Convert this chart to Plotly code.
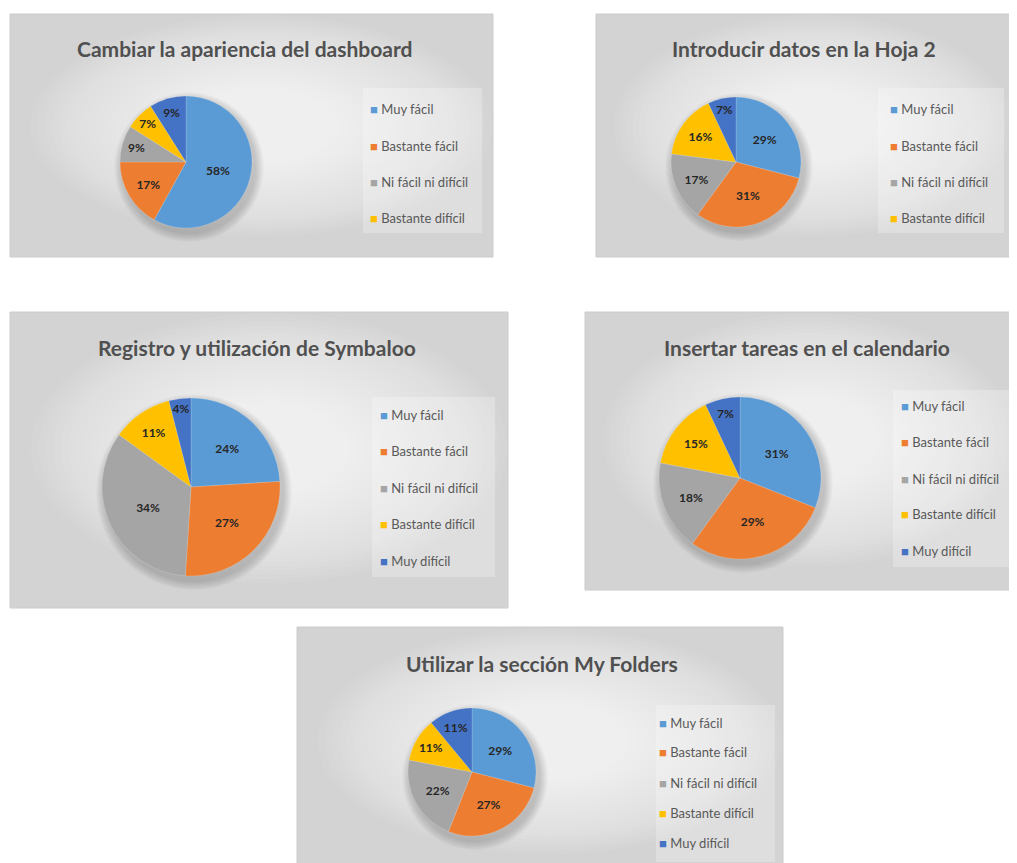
import plotly.graph_objects as go

# the page body has an 8px margin, so the figure is drawn 8px lower/right
OFF = 8
W, H = 1017 - OFF, 863 - OFF

# ---------------- data ----------------
categories = ["Muy fácil", "Bastante fácil", "Ni fácil ni difícil", "Bastante difícil", "Muy difícil"]
colors = ["#5B9BD5", "#ED7D31", "#A5A5A5", "#FFC000", "#4472C4"]

titles = [
    "Cambiar la apariencia del dashboard",
    "Introducir datos en la Hoja 2",
    "Registro y utilización de Symbaloo",
    "Insertar tareas en el calendario",
    "Utilizar la sección My Folders",
]
vals_dashboard = [58, 17, 9, 7, 9]
vals_hoja2 = [29, 31, 17, 16, 7]
vals_symbaloo = [24, 27, 34, 11, 4]
vals_calendario = [31, 29, 18, 15, 7]
vals_folders = [29, 27, 22, 11, 11]
legend_counts = [4, 4, 5, 5, 5]

series = [vals_dashboard, vals_hoja2, vals_symbaloo, vals_calendario, vals_folders]

# ---------------- layout (reference pixels) ----------------
panels = [(10, 14, 493, 257), (596, 14, 1013, 257), (10, 312, 508, 608),
          (585, 312, 1016, 590), (297, 627, 783, 875)]
pie_geo = [(186, 162, 132), (736, 162, 130), (191, 487, 178), (740, 478, 162), (472, 772, 128)]
title_pos = [(244, 48), (804, 48), (257, 347), (807, 347), (542, 663)]
legend_x = [373, 893, 383, 904, 662]
legend_rows = [[109, 146, 182, 218], [109, 146, 182, 218],
               [415, 451, 488, 524, 561], [406, 442, 479, 514, 551],
               [723, 752, 783, 813, 843]]
legend_box = [(363, 88, 482, 233), (878, 88, 1004, 233), (372, 397, 495, 577),
              (893, 390, 1014, 567), (656, 705, 775, 862)]


def px(x):
    return (x - OFF) / W


def py(y):
    return 1 - (y - OFF) / H


fig = go.Figure()
shapes = []
annotations = []

for i, vals in enumerate(series):
    x0, y0, x1, y1 = panels[i]
    w, h = x1 - x0, y1 - y0
    # panel base
    shapes.append(dict(type="rect", xref="paper", yref="paper", layer="below",
                       x0=px(x0), x1=px(x1), y0=py(y1), y1=py(y0),
                       fillcolor="#D3D3D3", line=dict(color="#CCCCCC", width=1)))
    # soft radial gradient (ellipses fully inside the panel)
    cx, cy = x0 + 0.52 * w, y0 + 0.46 * h
    rxm = min(cx - x0, x1 - cx) - 1
    rym = min(cy - y0, y1 - cy) - 1
    n = 32
    for k in range(n):
        s = 1 - k / n
        rx, ry = s * rxm, s * rym
        shapes.append(dict(type="circle", xref="paper", yref="paper", layer="below",
                           x0=px(cx - rx), x1=px(cx + rx), y0=py(cy + ry), y1=py(cy - ry),
                           fillcolor="white", opacity=0.06, line=dict(width=0)))
    # legend box
    lx0, ly0, lx1, ly1 = legend_box[i]
    shapes.append(dict(type="rect", xref="paper", yref="paper", layer="below",
                       x0=px(lx0), x1=px(lx1), y0=py(ly1), y1=py(ly0),
                       fillcolor="white", opacity=0.25, line=dict(width=0)))

    # soft pie shadow
    cxp, cyp, d = pie_geo[i]
    for grow in range(9, 0, -1):
        r = d / 2 + grow
        shapes.append(dict(type="circle", xref="paper", yref="paper", layer="below",
                           x0=px(cxp + 3 - r), x1=px(cxp + 3 + r),
                           y0=py(cyp + 5 + r), y1=py(cyp + 5 - r),
                           fillcolor="black", opacity=0.018, line=dict(width=0)))

    # pie
    fig.add_trace(go.Pie(
        values=vals, labels=categories, sort=False, direction="clockwise", rotation=0,
        marker=dict(colors=colors, line=dict(color="rgba(255,255,255,0.3)", width=0.5)),
        texttemplate="<b>%{value}%</b>", textposition="inside", insidetextorientation="horizontal",
        textfont=dict(family="Lato", size=12, color="#262626"),
        showlegend=False, hoverinfo="label+percent",
        domain=dict(x=[px(cxp - d / 2), px(cxp + d / 2)], y=[py(cyp + d / 2), py(cyp - d / 2)]),
        name=titles[i],
    ))

    # title
    tx, ty = title_pos[i]
    annotations.append(dict(text="<b>" + titles[i] + "</b>", xref="paper", yref="paper",
                            x=px(tx), y=py(ty), xanchor="center", yanchor="middle", showarrow=False,
                            font=dict(family="Lato", size=21, color="#505050")))
    # legend entries
    for j in range(legend_counts[i]):
        annotations.append(dict(
            text=f"<span style='color:{colors[j]}'>■</span> {categories[j]}",
            xref="paper", yref="paper", x=px(legend_x[i] - 5), y=py(legend_rows[i][j]),
            xanchor="left", yanchor="middle", showarrow=False,
            font=dict(family="Lato", size=13, color="#595959")))

fig.update_layout(
    width=W, height=H, margin=dict(l=0, r=0, t=0, b=0),
    paper_bgcolor="white", plot_bgcolor="white",
    shapes=shapes, annotations=annotations,
    uniformtext=dict(minsize=11, mode="show"),
)

fig.write_html("out.html")
